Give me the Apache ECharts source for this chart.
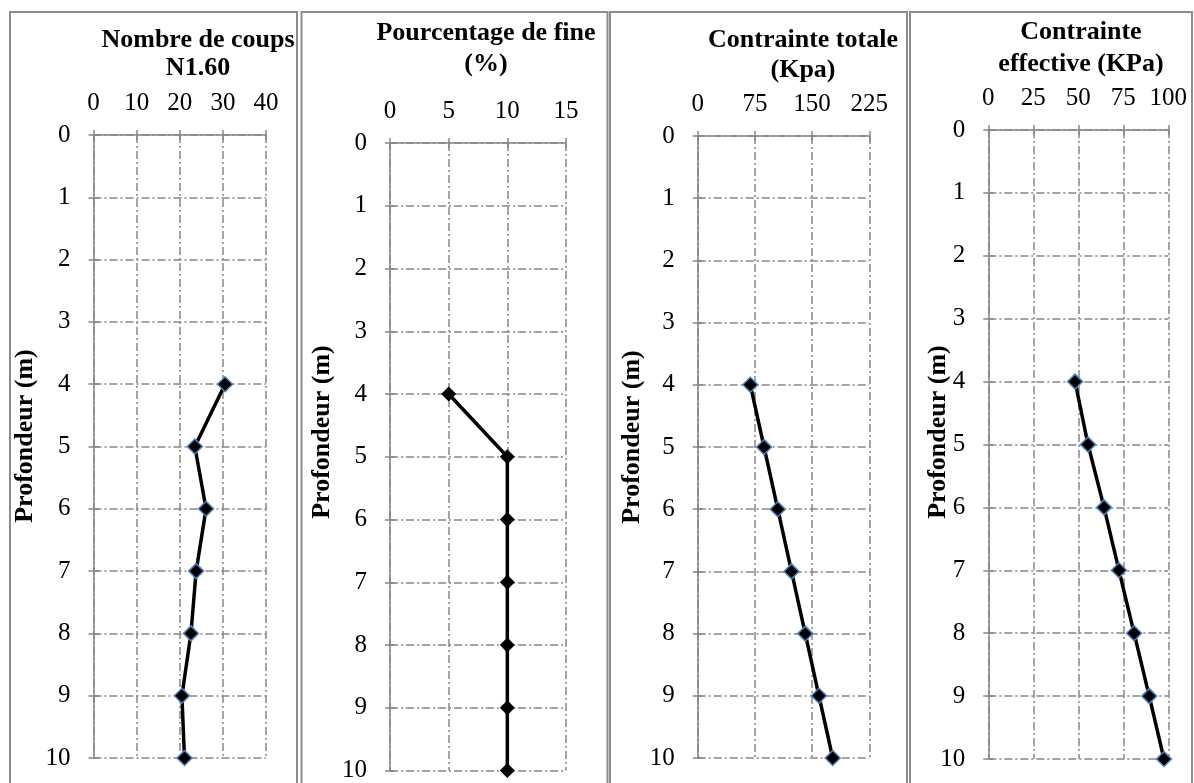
<!DOCTYPE html>
<html>
<head>
<meta charset="utf-8">
<script src="https://cdn.jsdelivr.net/npm/echarts@6/dist/echarts.min.js"></script>
<style>
html,body{margin:0;padding:0;background:#fff;}
#chart{width:1194px;height:783px;}
</style>
</head>
<body>
<div id="chart"></div>
<script>
// Data
const depths = [4, 5, 6, 7, 8, 9, 10];
const n160 = [30.5, 23.5, 26.1, 23.8, 22.6, 20.5, 21.1];
const fines = [5, 10, 10, 10, 10, 10, 10];
const sigmaTotal = [69, 87, 105, 123, 141, 159, 177];
const sigmaEff = [48.2, 55.4, 64.3, 72.6, 81, 89.4, 97.6];

const titles1 = ['Nombre de coups', 'Pourcentage de fine', 'Contrainte totale', 'Contrainte'];
const titles2 = ['N1.60', '(%)', '(Kpa)', 'effective (KPa)'];
const yName = 'Profondeur (m)';
const xScales = [
  {min: 0, max: 40, interval: 10},
  {min: 0, max: 15, interval: 5},
  {min: 0, max: 225, interval: 75},
  {min: 0, max: 100, interval: 25}
];
const seriesValues = [n160, fines, sigmaTotal, sigmaEff];

// Layout
const grids = [
  {left: 93.5, top: 135, width: 172.5, height: 623},
  {left: 390, top: 143, width: 176, height: 632},
  {left: 697.7, top: 136, width: 171.6, height: 622},
  {left: 988.3, top: 130, width: 180, height: 629}
];
const panels = [
  {x: 10, w: 287}, {x: 301.5, w: 306}, {x: 610, w: 297}, {x: 910, w: 282}
];
const titleCenters = [
  {x: 198, y1: 40, y2: 68},
  {x: 486, y1: 33, y2: 64},
  {x: 803, y1: 40, y2: 70},
  {x: 1081, y1: 32, y2: 64}
];
const yNamePos = [{x: 25, y: 436}, {x: 322, y: 432}, {x: 632, y: 437}, {x: 938, y: 432}];
const markerBorder = ['#4f81bd', '#000', '#4f81bd', '#4f81bd'];

const FONT = '"Liberation Serif", "Times New Roman", serif';
const GRAY = '#868686';
const DASHDOT = [8, 3, 2, 3];

const option = {
  backgroundColor: '#fff',
  animation: false,
  grid: grids.map(g => Object.assign({containLabel: false}, g)),
  xAxis: [],
  yAxis: [],
  series: [],
  graphic: []
};

grids.forEach((g, i) => {
  const sc = xScales[i];
  option.xAxis.push({
    type: 'value', gridIndex: i, position: 'top',
    min: sc.min, max: sc.max, interval: sc.interval,
    axisLine: {show: true, onZero: false, lineStyle: {color: GRAY, width: 1.5}},
    axisTick: {show: true, length: 5, lineStyle: {color: GRAY, width: 1.5}},
    axisLabel: {color: '#000', fontFamily: FONT, fontSize: 25, margin: 19},
    splitLine: {show: true, lineStyle: {color: GRAY, width: 1.5, type: DASHDOT}}
  });
  option.yAxis.push({
    type: 'value', gridIndex: i, inverse: true,
    min: 0, max: 10, interval: 1,
    axisLine: {show: true, onZero: false, lineStyle: {color: GRAY, width: 1.5}},
    axisTick: {show: true, length: 5, lineStyle: {color: GRAY, width: 1.5}},
    axisLabel: {color: '#000', fontFamily: FONT, fontSize: 25, margin: 23},
    splitLine: {show: true, lineStyle: {color: GRAY, width: 1.5, type: DASHDOT}}
  });
  option.series.push({
    type: 'line', xAxisIndex: i, yAxisIndex: i,
    data: seriesValues[i].map((v, k) => [v, depths[k]]),
    symbol: 'diamond', symbolSize: 15,
    lineStyle: {color: '#000', width: 3.5},
    itemStyle: {color: '#000', borderColor: markerBorder[i], borderWidth: i === 1 ? 0 : 1.5},
    z: 5
  });
  // panel frame
  option.graphic.push({
    type: 'rect', silent: true,
    shape: {x: panels[i].x, y: 12, width: panels[i].w, height: 800},
    style: {fill: 'none', stroke: '#8c8c8c', lineWidth: 2}
  });
  // titles
  option.graphic.push({
    type: 'text', silent: true, x: titleCenters[i].x, y: titleCenters[i].y1,
    style: {text: titles1[i], fill: '#000', font: 'bold 26px ' + FONT, textAlign: 'center', textVerticalAlign: 'middle'}
  });
  option.graphic.push({
    type: 'text', silent: true, x: titleCenters[i].x, y: titleCenters[i].y2,
    style: {text: titles2[i], fill: '#000', font: 'bold 26px ' + FONT, textAlign: 'center', textVerticalAlign: 'middle'}
  });
  // y axis name
  option.graphic.push({
    type: 'text', silent: true, x: yNamePos[i].x, y: yNamePos[i].y, rotation: Math.PI / 2,
    style: {text: yName, fill: '#000', font: 'bold 26px ' + FONT, textAlign: 'center', textVerticalAlign: 'middle'}
  });
});

// inner halves of the crossing tick marks
grids.forEach((g, i) => {
  const sc = xScales[i];
  option.xAxis.push({
    type: 'value', gridIndex: i, position: 'top',
    min: sc.min, max: sc.max, interval: sc.interval,
    axisLine: {show: false},
    axisTick: {show: true, inside: true, length: 5, lineStyle: {color: GRAY, width: 1.5}},
    axisLabel: {show: false},
    splitLine: {show: false}
  });
  option.yAxis.push({
    type: 'value', gridIndex: i, inverse: true, position: 'left',
    min: 0, max: 10, interval: 1,
    axisLine: {show: false},
    axisTick: {show: true, inside: true, length: 5, lineStyle: {color: GRAY, width: 1.5}},
    axisLabel: {show: false},
    splitLine: {show: false}
  });
});

const chart = echarts.init(document.getElementById('chart'), null, {renderer: 'canvas'});
chart.setOption(option);
</script>
</body>
</html>
